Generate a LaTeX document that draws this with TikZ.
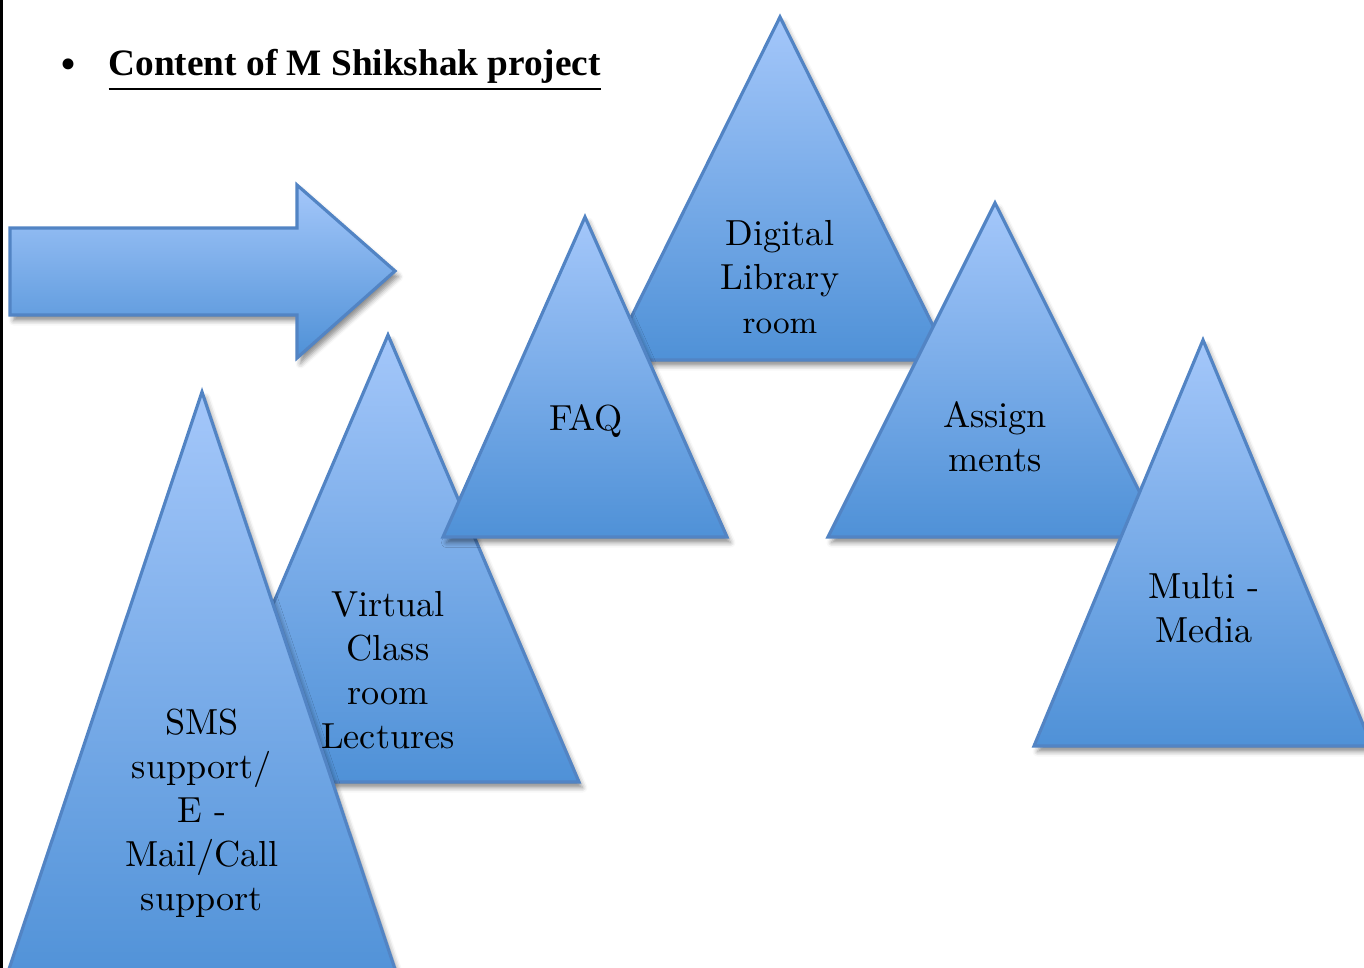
\documentclass[tikz,border=0pt]{standalone}
\usepackage{fontspec}
\newfontfamily\titlefont{Liberation Serif}
\usetikzlibrary{shadows.blur}
\definecolor{triTop}{RGB}{164,199,250}
\definecolor{triBottom}{RGB}{79,145,215}
\definecolor{triEdge}{RGB}{82,132,196}
\tikzset{
	tri/.style={draw=triEdge, line width=0.9pt, line join=miter, top color=triTop, bottom color=triBottom,
		blur shadow={shadow xshift=1pt, shadow yshift=-1.6pt, shadow blur radius=1.4pt, shadow opacity=45}},
	trilabel/.style={align=center, inner sep=0pt, font=\fontsize{10.3}{12.5}\selectfont},
}
\begin{document}
\begin{tikzpicture}[x=0.01cm, y=-0.01cm]
		\useasboundingbox (0,0) rectangle (1364,968);
		\clip (0,0) rectangle (1364,968);
		% Rand links
		\draw [line width=1pt] (1,0) -- (1,968);
		% Titel
		\node [anchor=base, inner sep=0pt, font=\titlefont\fontsize{13}{15}\selectfont] (bullet) at (68,80) {\textbullet};
		\node [anchor=base west, inner sep=0pt, font=\titlefont\bfseries\fontsize{10.6}{13}\selectfont] (title) at (108,76) {\underline{Content of M Shikshak project}};
		% Pfeil
		\draw [tri] (10,228) -- (297,228) -- (297,185) -- (395,271) -- (297,358) -- (297,315) -- (10,315) -- cycle;
		% Dreiecke, von hinten nach vorne
		\draw [tri] (780,17) -- (950,360) -- (610,360) -- cycle;   % Digital Library
		\draw [tri] (388,335) -- (579,782) -- (197,782) -- cycle;  % Virtual Class room
		\draw [tri] (585,217) -- (727,537) -- (443,537) -- cycle;  % FAQ
		\draw [tri] (995,203) -- (1162,537) -- (828,537) -- cycle; % Assignments
		\draw [tri] (1203,340) -- (1372,746) -- (1034,746) -- cycle; % Multi-Media
		\draw [tri] (202,392) -- (402,990) -- (2,990) -- cycle;    % SMS
		% Beschriftungen
		\node [trilabel] (library) at (780,277) {Digital\\Library\\{\fontsize{9.2}{11}\selectfont room}};
		\node [trilabel] (faq) at (586,421) {FAQ};
		\node [trilabel] (assign) at (995,437) {Assign\\ments};
		\node [trilabel] (multimedia) at (1204,608) {Multi -\\Media};
		\node [trilabel] (virtual) at (388,670) {Virtual\\Class\\room\\Lectures};
		\node [trilabel] (sms) at (202,813) {SMS\\support/\\E -\\Mail/Call\\support};
\end{tikzpicture}
\end{document}
